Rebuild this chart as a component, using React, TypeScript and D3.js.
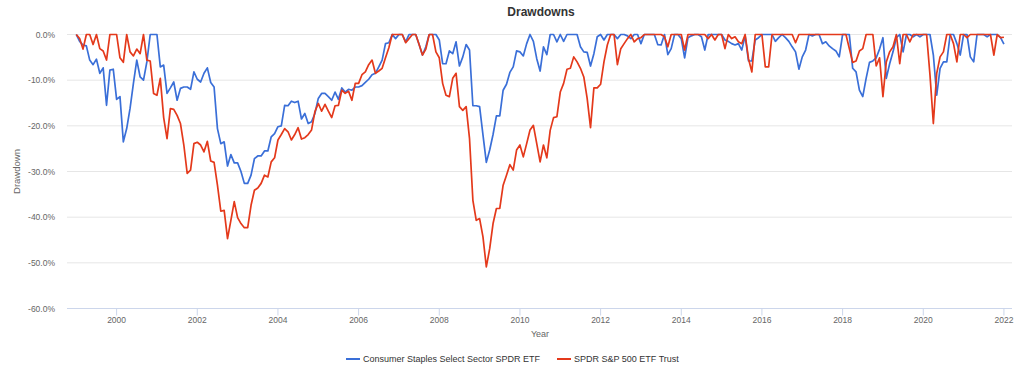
import React from "react";
import * as d3 from "d3";

// Monthly drawdowns (%), starting January 1999
const startYear = 1999;
const seriesNames = ["Consumer Staples Select Sector SPDR ETF", "SPDR S&P 500 ETF Trust"];
const seriesColors = ["#3a6fd8", "#e4391b"];

const xlpDrawdown = [
  0, -1.5, -2.3, -2.5, -5.6, -6.6, -5.4, -8.5, -7.3, -15.5, -7.8, -7.6,
  -14.2, -13.6, -23.5, -20.6, -16.2, -10.7, -5.6, -9.3, -10, -6, 0, 0,
  0, -7.1, -6.7, -12.9, -11.7, -10.4, -14.4, -11.8, -11.5, -11.5, -12, -8.2,
  -9.8, -10.4, -8.5, -7.3, -10.5, -11.5, -20.6, -23.9, -23.5, -28.8, -26.3, -28.1,
  -28.1, -30, -32.6, -32.6, -30.8, -27.2, -26.6, -26.6, -25.5, -25.5, -22.4, -21.7,
  -20.2, -20, -15.5, -15.6, -14.6, -14.9, -14.6, -18.5, -17.3, -19.5, -19.1, -17.3,
  -14, -12.9, -12.9, -13.6, -14.4, -12.6, -14.2, -11.7, -12.6, -12, -12.2, -11.5,
  -11.5, -11.2, -10.5, -9.8, -8.8, -8.5, -7.1, -5.6, -2, -1.8, 0, -0.9,
  0, 0, -1.6, 0, 0, 0, -2.2, -4.5, -2.7, 0, 0, 0,
  -1.2, -6.4, -6.4, -3.6, -4.2, -1.6, -6.9, -4.9, -2.2, -3.4, -15.6, -15.6,
  -15.8, -22, -28, -25.3, -21.9, -17.8, -17.8, -12.2, -10.9, -8.3, -7.1, -3.6,
  -3.8, -4.7, -2, 0, -1.5, -5.3, -8, -2.7, -4.4, 0, 0, -1.6,
  0, -1.5, 0, 0, 0, 0, -2.7, -3.8, -3.9, -6.9, -4.2, -0.5,
  0, -1.2, 0, 0, 0, -0.9, 0, 0, -0.3, -0.9, 0, 0,
  -2, 0, 0, 0, 0, -2.2, -2.3, 0, -4.4, -3.1, 0, 0,
  -0.9, -5.1, -0.7, -0.3, 0, 0, -0.5, -3.4, 0, 0, 0, 0,
  0, -1.2, -1.5, -2, -2.3, -2, -3.4, -0.3, -5.8, -5.8, -1.2, -0.7,
  0, 0, 0, 0, -1.5, -0.7, 0, -0.7, -1.5, -2.7, -3.8, -7.6,
  -4.9, -3.4, 0, -0.3, 0, 0, -2, -1.6, -2.5, -3.1, -3.6, -4.9,
  0, 0, 0, -7.4, -8.2, -12.2, -13.6, -9.6, -6.1, -5.8, -5.1, -3.2,
  -0.7, -9.6, -6.4, -3.8, -0.7, 0, -3.8, 0, 0, -0.5, 0, -0.5,
  0, 0, 0, -4.5, -13.3, -7.4, -6, -6, 0, 0, -2, -4.5,
  0, 0, -4.9, -6, 0, 0, 0, -0.5, 0, 0, 0, -0.7,
  -2.1,
];

const spyDrawdown = [
  0, -0.9, -3.2, 0, 0, -2.2, 0, -3.1, -3.6, -5.6, 0, 0,
  0, -5.1, -6.1, 0, -3.8, -4.7, -3.2, -4.2, 0, -5.6, -5.8, -12.9,
  -13.3, -9.6, -18.2, -22.8, -16.2, -16.4, -17.7, -19.5, -24.2, -30.4, -29.7, -23.9,
  -23.6, -24.2, -25.7, -23.4, -27.7, -28, -33, -38.7, -38.5, -44.7, -40.7, -36.6,
  -40.1, -41.4, -42.3, -42.3, -37.4, -34.1, -33.6, -32.6, -30.8, -31.2, -27.9, -27,
  -23.1, -21.9, -20.6, -21.3, -23.1, -21.9, -20.4, -22.9, -22.6, -21.9, -20.9, -16.9,
  -15.1, -16.8, -15.3, -16.8, -18.2, -15.6, -15.5, -12.2, -12.9, -12.4, -14.4, -10.7,
  -10.7, -8.8, -8.2, -6.6, -5.6, -8.5, -8, -7.4, -5.1, -2.9, 0, 0,
  0, 0, -1.8, -0.9, 0, 0, -2.2, -4.5, -3.2, 0, 0, -3.8,
  -5.1, -10.7, -13.3, -13.6, -9.6, -8.5, -15.8, -16.6, -15.8, -22.8, -36.3, -40.7,
  -40.3, -44.3, -50.9, -46.9, -41.4, -38.1, -38.1, -33, -30.8, -28.5, -29.7, -25.3,
  -24.2, -26.8, -23.9, -20.9, -19.9, -23.9, -27.9, -24.2, -27, -21, -18.2, -18,
  -12.6, -10.7, -7.6, -7.4, -4.9, -6, -7.4, -9.3, -14, -20.4, -11.7, -11.7,
  -10.9, -6, -2.3, 0, 0, -6.6, -3.1, -2, -0.9, 0, -1.6, -0.9,
  -0.7, 0, 0, 0, 0, 0, 0, -0.5, -2.7, 0, 0, 0,
  0, -3.4, 0, 0, 0, 0, 0, 0, -0.9, 0, -1.2, 0,
  0, -3.1, 0, -0.9, -0.5, -1.6, -2, 0, -5.3, -8.2, 0, 0,
  0, -7.1, -7.1, 0, 0, 0, 0, 0, 0, 0, -1.8, 0,
  0, 0, 0, 0, 0, 0, 0, 0, 0, 0, 0, 0,
  0, 0, -3.1, -6.1, -5.8, -3.6, -3.1, 0, 0, 0, -6.9, -5.1,
  -13.6, -6, -3.8, -2.7, 0, -6.4, 0, 0, -1.6, 0, 0, 0,
  0, 0, -8.9, -19.5, -8.5, -4.9, -3.8, 0, 0, -2, -6, 0,
  0, -0.7, 0, 0, 0, 0, 0, 0, 0, -4.5, 0, -0.7,
  -0.6,
];

const yTicks = [0, -10, -20, -30, -40, -50, -60];
const xTicks = [2000, 2002, 2004, 2006, 2008, 2010, 2012, 2014, 2016, 2018, 2020, 2022];

const W = 1024;
const H = 377;
const left = 67;
const right = 1012;
const top = 34.5;
const bottom = 308.5;
const font = "'Liberation Sans', Arial, Helvetica, sans-serif";

export default function App() {
  const x = d3.scaleLinear().domain([1998.77, 2022.2]).range([left, right]);
  const y = d3.scaleLinear().domain([-60, 0]).range([bottom, top]);
  const line = d3
    .line<number>()
    .x((_, i) => x(startYear + i / 12))
    .y((v) => y(v));
  const series = [xlpDrawdown, spyDrawdown];

  return (
    <svg width={W} height={H} style={{ position: "absolute", left: 0, top: 0, background: "#fff" }} fontFamily={font}>
      <text x={541} y={16} textAnchor="middle" fontSize={12} fontWeight="bold" fill="#333">
        Drawdowns
      </text>
      {yTicks.map((t) => (
        <g key={t}>
          {t !== -60 && (
            <line x1={left} x2={right} y1={y(t)} y2={y(t)} stroke="#e6e6e6" strokeWidth={1} />
          )}
          <text x={55} y={y(t) + 3} textAnchor="end" fontSize={8.5} fill="#666">
            {t.toFixed(1) + "%"}
          </text>
        </g>
      ))}
      <line x1={left} x2={right} y1={bottom} y2={bottom} stroke="#ccd6eb" strokeWidth={1} />
      {xTicks.map((t) => (
        <g key={t}>
          <line x1={x(t)} x2={x(t)} y1={bottom} y2={bottom + 7} stroke="#ccd6eb" strokeWidth={1} />
          <text x={x(t)} y={323} textAnchor="middle" fontSize={8.5} fill="#666">
            {t}
          </text>
        </g>
      ))}
      <text x={540} y={337} textAnchor="middle" fontSize={9} fill="#666">
        Year
      </text>
      <text
        transform={`translate(20,${(top + bottom) / 2}) rotate(-90)`}
        textAnchor="middle"
        fontSize={9.5}
        fill="#666"
      >
        Drawdown
      </text>
      {series.map((s, k) => (
        <path
          key={k}
          d={line(s) || ""}
          fill="none"
          stroke={seriesColors[k]}
          strokeWidth={1.7}
          strokeLinejoin="round"
        />
      ))}
      <g>
        <line x1={346} x2={360} y1={359} y2={359} stroke={seriesColors[0]} strokeWidth={2} />
        <text x={363} y={362} fontSize={9} fill="#333">
          {seriesNames[0]}
        </text>
        <line x1={557} x2={571} y1={359} y2={359} stroke={seriesColors[1]} strokeWidth={2} />
        <text x={574} y={362} fontSize={9} fill="#333">
          {seriesNames[1]}
        </text>
      </g>
    </svg>
  );
}
